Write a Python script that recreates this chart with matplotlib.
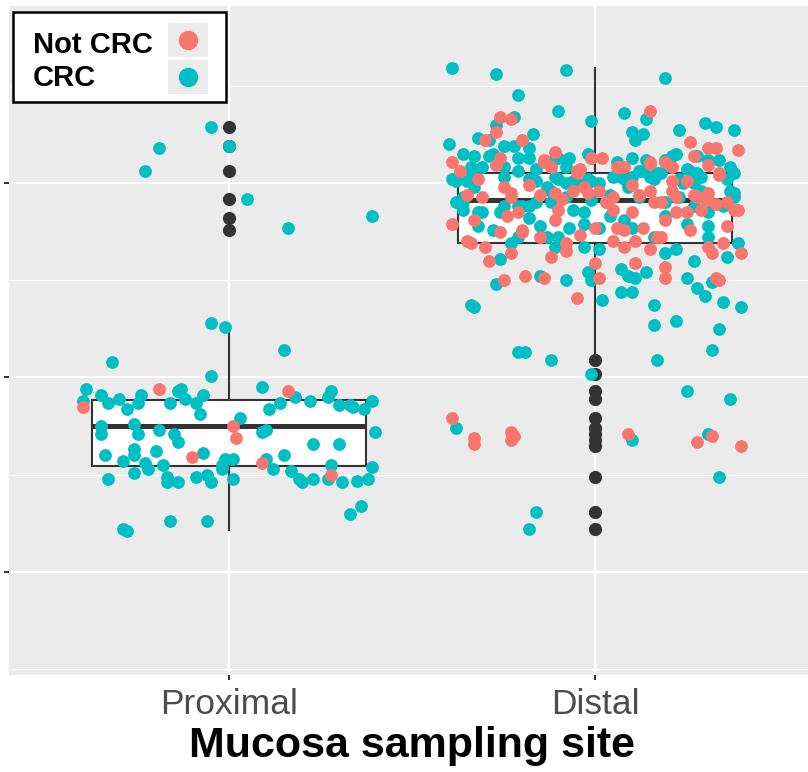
import numpy as np
import matplotlib
matplotlib.use("Agg")
import matplotlib.pyplot as plt
from matplotlib.patches import Rectangle

plt.rcParams["font.family"] = ["Liberation Sans", "DejaVu Sans"]

# categories and legend groups
sites = ["Proximal", "Distal"]
groups = ["Not CRC", "CRC"]
group_colors = ["#F8766D", "#00BFC4"]

# box summaries (one value per site)
box_q1 = [1.545, 2.69]
box_med = [1.75, 2.91]
box_q3 = [1.885, 3.05]
box_whislo = [1.216, 2.12]
box_whishi = [2.24, 3.59]
prox_fliers = [3.29, 3.19, 3.06, 2.92, 2.82, 2.76]
dist_fliers = [2.09, 2.02, 1.93, 1.89, 1.79, 1.74, 1.71, 1.68, 1.65, 1.49, 1.31, 1.22]

# jittered samples (x = jittered site position, y = value)
prox_crc = [
    (0.95, 2.28), (0.99, 2.26), (0.68, 2.08), (1.15, 2.14), (0.95, 2.01),
    (0.61, 1.94), (0.65, 1.91), (0.67, 1.87), (0.70, 1.89), (0.72, 1.84), (0.75, 1.87), (0.76, 1.91),
    (0.84, 1.87), (0.86, 1.93), (0.87, 1.94), (0.88, 1.89), (0.91, 1.87), (0.93, 1.91), (0.92, 1.81),
    (1.03, 1.79), (1.09, 1.95), (1.11, 1.84), (1.14, 1.87), (1.18, 1.90), (1.22, 1.88), (1.27, 1.90),
    (1.28, 1.93), (1.30, 1.86), (1.33, 1.86), (1.34, 1.85), (1.37, 1.84), (1.39, 1.88), (0.60, 1.88),
    (0.65, 1.75), (0.65, 1.71), (0.74, 1.76), (0.75, 1.71), (0.81, 1.73), (0.85, 1.71), (0.86, 1.67),
    (1.09, 1.72), (1.10, 1.73), (1.23, 1.66), (1.30, 1.66), (1.40, 1.72),
    (0.66, 1.60), (0.74, 1.63), (0.74, 1.60), (0.71, 1.57), (0.80, 1.62), (0.93, 1.61), (1.15, 1.60),
    (1.10, 1.58), (0.77, 1.56), (0.78, 1.53), (0.82, 1.55), (0.98, 1.55), (0.99, 1.58), (1.01, 1.58),
    (0.98, 1.53), (1.01, 1.48), (0.67, 1.48), (0.74, 1.51), (0.83, 1.49), (0.83, 1.46), (0.86, 1.46),
    (0.91, 1.49), (0.94, 1.50), (0.95, 1.46), (1.12, 1.53), (1.17, 1.52), (1.19, 1.48), (1.20, 1.46),
    (1.23, 1.48), (1.27, 1.48), (1.28, 1.55), (1.31, 1.46), (1.35, 1.47), (1.38, 1.48), (1.39, 1.54),
    (1.36, 1.34), (1.33, 1.30), (0.71, 1.22), (0.72, 1.21), (0.84, 1.26), (0.94, 1.26),
    (0.95, 3.29), (0.81, 3.18), (0.77, 3.06), (1.00, 3.19), (1.05, 2.92), (1.16, 2.77), (1.39, 2.83),
]
prox_not = [(0.60, 1.85), (0.81, 1.94), (1.16, 1.93), (1.01, 1.75), (1.02, 1.69),
            (0.90, 1.59), (1.09, 1.56), (1.28, 1.50)]

dist_crc = [
    (1.61, 3.59), (1.73, 3.56), (1.92, 3.58), (1.79, 3.45), (1.90, 3.37), (1.99, 3.32), (1.78, 3.34),
    (1.73, 3.30), (1.68, 3.23), (1.71, 3.22), (1.83, 3.25), (1.60, 3.20), (1.75, 3.19), (1.78, 3.19),
    (1.82, 3.18), (1.82, 3.13), (1.64, 3.15), (1.67, 3.14), (1.72, 3.15), (1.69, 3.08), (1.66, 3.08),
    (1.75, 3.08), (1.79, 3.06), (1.84, 3.07), (1.90, 3.13), (1.93, 3.13), (1.92, 3.08), (1.98, 3.15),
    (1.61, 3.02),
    (2.19, 3.54), (2.08, 3.36), (2.14, 3.33), (2.10, 3.26), (2.13, 3.25), (2.11, 3.22), (2.23, 3.27),
    (2.30, 3.31), (2.33, 3.29), (2.38, 3.27), (2.10, 3.13), (2.06, 3.11), (2.14, 3.12), (2.19, 3.12),
    (2.21, 3.14), (2.22, 3.15), (2.13, 3.06), (2.17, 3.05), (2.28, 3.14), (2.26, 3.06), (2.28, 3.05),
    (2.34, 3.12), (2.37, 3.08), (2.38, 3.05), (1.99, 3.13),
    (1.62, 3.01), (1.64, 2.93), (1.62, 2.90), (1.65, 3.01), (1.67, 2.98), (1.74, 2.85), (1.79, 2.88),
    (1.82, 2.82), (1.85, 2.78), (1.88, 2.96), (1.87, 2.72), (1.89, 2.67), (1.92, 3.00), (1.94, 3.01),
    (1.97, 2.85), (1.97, 2.79), (1.97, 2.67), (2.01, 2.77), (2.01, 2.66), (2.01, 3.00), (2.05, 3.03),
    (2.07, 3.03), (2.09, 2.98), (2.08, 2.81), (2.12, 3.06), (2.18, 3.05), (2.19, 2.83), (2.23, 3.02),
    (2.27, 3.00), (2.29, 3.03), (2.31, 2.85), (2.31, 2.78), (2.35, 2.88), (2.37, 2.96), (2.38, 2.93),
    (2.39, 2.69), (2.36, 2.62), (2.27, 2.60), (2.19, 2.64), (2.07, 2.56), (2.09, 2.52), (2.11, 2.51),
    (2.14, 2.54), (2.07, 2.44), (2.10, 2.44), (1.98, 2.54), (1.99, 2.50), (2.02, 2.40), (1.92, 2.50),
    (1.85, 2.52), (1.73, 2.48), (1.74, 2.61), (1.77, 2.69), (1.68, 2.78), (1.68, 2.85), (2.16, 2.37),
    (2.25, 2.51), (2.28, 2.46), (2.30, 2.42), (2.35, 2.39), (2.40, 2.36), (2.32, 2.49),
    (1.75, 3.03), (1.82, 3.02), (1.87, 2.98), (1.89, 3.03), (1.99, 3.01), (2.12, 2.93), (2.25, 3.07),
    (2.29, 2.96), (2.23, 2.93), (2.19, 2.90), (2.03, 2.90), (2.04, 2.83), (1.94, 2.86), (1.92, 2.93),
    (1.82, 2.88), (1.80, 2.88), (1.64, 2.90),
    (1.66, 3.06), (1.71, 3.14), (1.79, 3.13), (1.84, 3.01), (1.89, 3.13), (1.90, 3.02), (1.95, 3.00),
    (1.98, 3.02), (2.08, 3.02), (2.10, 3.03), (2.15, 3.03), (2.16, 3.02), (2.24, 3.00), (2.28, 3.04),
    (2.31, 3.12), (2.36, 3.02), (2.38, 2.95), (2.31, 2.88), (2.27, 2.88), (2.04, 2.94), (1.99, 2.91),
    (1.88, 2.90), (1.84, 2.90), (1.75, 2.88), (1.69, 2.85), (1.64, 2.86), (1.72, 2.76), (1.79, 2.72),
    (1.90, 2.72), (1.93, 2.77), (2.10, 2.77), (2.16, 2.72), (2.31, 2.72), (2.25, 2.79), (2.22, 2.66),
    (1.66, 2.37), (1.67, 2.36), (2.16, 2.27), (2.22, 2.29), (2.34, 2.25), (1.79, 2.13), (1.81, 2.13),
    (1.88, 2.09), (2.17, 2.09), (2.32, 2.14), (1.99, 2.02), (2.25, 1.93), (2.37, 1.89), (1.62, 1.74),
    (2.10, 1.68), (2.31, 1.71), (2.34, 1.49), (1.84, 1.31), (1.82, 1.22),
]
dist_not = [
    (1.74, 3.34), (1.77, 3.33), (1.73, 3.26), (1.70, 3.22), (1.61, 3.11), (1.63, 3.06), (1.74, 3.13),
    (1.86, 3.11), (1.88, 3.08), (1.89, 3.16), (1.95, 3.06), (1.96, 3.07), (1.99, 3.13),
    (2.15, 3.37), (2.26, 3.21), (2.31, 3.18), (2.33, 3.18), (2.39, 3.17), (2.02, 3.13), (2.15, 3.11),
    (2.27, 3.14), (2.21, 3.08), (2.31, 3.09), (2.34, 3.05), (2.07, 3.08), (2.08, 3.08), (2.21, 3.01),
    (2.25, 3.01),
    (1.61, 2.79), (1.66, 2.69), (1.67, 2.81), (1.69, 2.93), (1.70, 2.67), (1.71, 2.60), (1.74, 2.75),
    (1.76, 2.83), (1.77, 2.93), (1.79, 2.85), (1.80, 2.75), (1.77, 2.64), (1.75, 2.50), (1.81, 2.52),
    (1.85, 2.72), (1.86, 2.51), (1.88, 2.62), (1.89, 2.81), (1.92, 2.69), (1.92, 2.65), (1.95, 2.41),
    (2.00, 2.77), (2.01, 2.51), (2.00, 2.59), (2.05, 2.86), (2.06, 2.77), (2.05, 2.70), (2.08, 2.67),
    (2.10, 2.85), (2.11, 2.70), (2.11, 2.59), (2.13, 2.77), (2.15, 2.66), (2.17, 2.72), (2.18, 2.72),
    (2.19, 2.81), (2.19, 2.57), (2.19, 2.51), (2.22, 2.85), (2.25, 2.85), (2.22, 2.93), (2.27, 2.94),
    (2.31, 2.67), (2.32, 2.64), (2.33, 2.51), (2.34, 2.50), (2.35, 2.69), (2.38, 2.86), (2.40, 2.64),
    (2.05, 2.93), (2.01, 2.96), (2.03, 2.90), (1.98, 2.95), (1.97, 2.98), (1.89, 2.95), (1.91, 2.92),
    (1.94, 2.96), (2.15, 2.96), (2.16, 2.90), (2.18, 2.90), (2.30, 2.92), (2.31, 2.95), (2.33, 2.89),
    (2.36, 2.90), (2.39, 2.86), (1.75, 2.98),
    (1.77, 2.95), (1.86, 3.12), (1.95, 3.05), (2.06, 3.08), (2.10, 2.99), (2.15, 3.10), (2.19, 3.11),
    (2.34, 3.04), (2.28, 2.93), (2.31, 2.91), (1.65, 2.70), (1.80, 2.76), (1.85, 2.94), (1.82, 2.99),
    (1.90, 2.86), (1.96, 2.73), (2.12, 2.94), (2.21, 2.96), (2.26, 2.76), (2.29, 2.86), (2.36, 2.78),
    (2.08, 2.76), (1.68, 3.02), (1.65, 2.94), (1.73, 3.09), (1.80, 3.22),
    (1.61, 1.79), (1.67, 1.69), (1.67, 1.66), (1.77, 1.72), (1.78, 1.70), (1.77, 1.68), (2.09, 1.71),
    (2.28, 1.67), (2.32, 1.70), (2.40, 1.65),
]

fig = plt.figure(figsize=(8.08, 7.72), dpi=100)
ax = fig.add_axes([9.4 / 808, 97 / 772, 805.2 / 808, 669 / 772])
ax.set_facecolor("#EBEBEB")
for s in ax.spines.values():
    s.set_visible(False)

stats = []
fliers = [prox_fliers, dist_fliers]
for i in range(len(sites)):
    stats.append(dict(med=box_med[i], q1=box_q1[i], q3=box_q3[i],
                      whislo=box_whislo[i], whishi=box_whishi[i], fliers=fliers[i]))
ax.bxp(stats, positions=[1, 2], widths=0.75, patch_artist=True, showcaps=False,
       manage_ticks=False,
       boxprops=dict(facecolor="white", edgecolor="#333333", linewidth=1.5),
       medianprops=dict(color="#333333", linewidth=3.6, solid_capstyle="butt"),
       whiskerprops=dict(color="#333333", linewidth=1.5),
       flierprops=dict(marker="o", markerfacecolor="#333333", markeredgecolor="none",
                       markersize=9.5), zorder=2)

for pts, col in [(prox_crc, group_colors[1]), (prox_not, group_colors[0]),
                 (dist_crc, group_colors[1]), (dist_not, group_colors[0])]:
    arr = np.array(pts)
    ax.scatter(arr[:, 0], arr[:, 1], s=85, color=col, linewidths=0, zorder=3)

ax.set_xlim(0.4, 2.6)
ax.set_ylim(0.47, 3.91)
ax.set_yticks([1, 2, 3])
ax.set_yticks([0.5, 1.5, 2.5, 3.5], minor=True)
ax.set_yticklabels([])
ax.set_xticks([1, 2])
ax.set_xticklabels(sites, fontsize=25.5, color="#4D4D4D")
ax.tick_params(axis="both", which="major", length=3.6, width=1.4, color="#333333")
ax.tick_params(axis="x", pad=6)
ax.tick_params(axis="y", which="minor", length=0)
ax.grid(which="major", color="white", linewidth=1.6)
ax.grid(which="minor", axis="y", color="white", linewidth=0.8)
ax.set_axisbelow(True)

# legend drawn ggplot-style: grey key boxes, labels left
ax.add_patch(Rectangle((0.0045, 0.8565), 0.2645, 0.1345, transform=ax.transAxes,
                       facecolor="white", edgecolor="black", linewidth=1.8, zorder=5))
key_y = [0.9238, 0.8685]
text_y = [0.930, 0.880]
for i, (lab, col) in enumerate(zip(groups, group_colors)):
    ax.add_patch(Rectangle((0.197, key_y[i]), 0.0497, 0.0505, transform=ax.transAxes,
                           facecolor="#EBEBEB", edgecolor="none", zorder=6))
    ax.plot([0.2217], [key_y[i] + 0.025], "o", color=col, markersize=14, markeredgewidth=0,
            transform=ax.transAxes, zorder=7, clip_on=False)
    ax.text(0.0293, text_y[i], lab, transform=ax.transAxes, fontsize=21, fontweight="bold",
            va="baseline", ha="left", zorder=7)

fig.text(412 / 808, 15 / 772, "Mucosa sampling site", fontsize=31, fontweight="bold",
         ha="center", va="baseline")

fig.savefig("out.png", dpi=100)
